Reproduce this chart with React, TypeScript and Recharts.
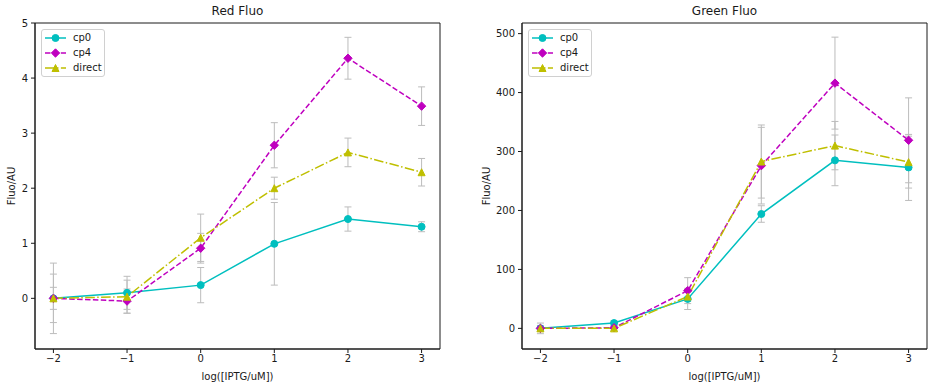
import React from "react";
import {
  LineChart,
  Line,
  XAxis,
  YAxis,
  ErrorBar,
  ReferenceArea,
} from "recharts";

// log([IPTG/uM]) positions
const xValues = [-2, -1, 0, 1, 2, 3];

// Red Fluo panel
const redCp0 = [0, 0.1, 0.24, 0.99, 1.44, 1.3];
const redCp0Err = [0.44, 0.3, 0.32, 0.75, 0.22, 0.09];
const redCp4 = [0, -0.05, 0.91, 2.78, 4.36, 3.49];
const redCp4Err = [0.2, 0.22, 0.27, 0.41, 0.38, 0.35];
const redDirect = [0, 0.03, 1.1, 2.0, 2.65, 2.29];
const redDirectErr = [0.64, 0.3, 0.43, 0.2, 0.26, 0.25];
const redTicks = [0, 1, 2, 3, 4, 5];

// Green Fluo panel
const greenCp0 = [0, 9, 50, 194, 285, 273];
const greenCp0Err = [9, 4, 18, 14, 43, 56];
const greenCp4 = [0, 1, 64, 276, 416, 319];
const greenCp4Err = [5, 4, 22, 65, 78, 72];
const greenDirect = [0, 0, 54, 283, 310, 282];
const greenDirectErr = [3, 3, 8, 62, 41, 44];
const greenTicks = [0, 100, 200, 300, 400, 500];

const xTicks = [-2, -1, 0, 1, 2, 3];
const xDomain: [number, number] = [-2.25, 3.25];

const FONT = "'DejaVu Sans', sans-serif";
const TEXT = "#1a1a1a";
const ERR = "#bcbcbc";

const series = [
  { key: "cp0", name: "cp0", color: "#00bfbf", dash: undefined, marker: "o" },
  { key: "cp4", name: "cp4", color: "#bf00bf", dash: "5.5 2.4", marker: "D" },
  { key: "direct", name: "direct", color: "#bfbf00", dash: "9.6 2.4 1.5 2.4", marker: "^" },
];

const minus = (v: number) => String(v).replace("-", "\u2212");

function Marker({ cx, cy, color, kind }: { cx: number; cy: number; color: string; kind: string }) {
  if (cx == null || cy == null) return null;
  if (kind === "D") {
    const h = 4.2;
    return (
      <polygon
        points={`${cx},${cy - h} ${cx + h},${cy} ${cx},${cy + h} ${cx - h},${cy}`}
        fill={color}
        stroke={color}
        strokeWidth={1}
      />
    );
  }
  if (kind === "^") {
    const h = 3.5;
    return (
      <polygon
        points={`${cx},${cy - h} ${cx + h},${cy + h} ${cx - h},${cy + h}`}
        fill={color}
        stroke={color}
        strokeWidth={1}
      />
    );
  }
  return <circle cx={cx} cy={cy} r={3.5} fill={color} stroke={color} strokeWidth={1} />;
}

function LegendBox({ left, top }: { left: number; top: number }) {
  return (
    <div
      style={{
        position: "absolute",
        left,
        top,
        width: 62,
        height: 46,
        border: "1px solid #d0d0d0",
        borderRadius: 3,
        background: "rgba(255,255,255,0.8)",
        fontFamily: FONT,
        fontSize: 10,
        color: TEXT,
      }}
    >
      {series.map((s, i) => (
        <div
          key={s.key}
          style={{ position: "absolute", left: 0, top: 1 + i * 15, height: 14, width: 62 }}
        >
          <svg width={26} height={14} style={{ position: "absolute", left: 2, top: 0 }}>
            <line
              x1={1}
              x2={22}
              y1={7}
              y2={7}
              stroke={s.color}
              strokeWidth={1.5}
              strokeDasharray={s.dash}
            />
            <Marker cx={11.5} cy={7} color={s.color} kind={s.marker} />
          </svg>
          <span style={{ position: "absolute", left: 31, top: 0, lineHeight: "14px" }}>{s.name}</span>
        </div>
      ))}
    </div>
  );
}

function Panel({
  title,
  rows,
  yDomain,
  yTicks,
  yAxisWidth,
  rightMargin,
  yLabelOffset,
}: {
  title: string;
  rows: any[];
  yDomain: [number, number];
  yTicks: number[];
  yAxisWidth: number;
  rightMargin: number;
  yLabelOffset: number;
}) {
  const width = 470;
  const plotLeft = yAxisWidth;
  const plotRight = width - rightMargin;
  return (
    <div style={{ position: "relative", width, height: 387 }}>
      <div
        style={{
          position: "absolute",
          left: plotLeft,
          width: plotRight - plotLeft,
          top: 4,
          textAlign: "center",
          fontFamily: FONT,
          fontSize: 12,
          color: TEXT,
        }}
      >
        {title}
      </div>
      <LineChart
        width={width}
        height={387}
        data={rows}
        margin={{ top: 23, right: rightMargin, bottom: 0, left: 0 }}
        style={{ fontFamily: FONT }}
      >
        <XAxis
          dataKey="x"
          type="number"
          domain={xDomain}
          ticks={xTicks}
          allowDataOverflow
          height={38}
          tickSize={4}
          tickMargin={2}
          tickFormatter={minus}
          tick={{ fontSize: 10, fill: TEXT }}
          axisLine={{ stroke: TEXT }}
          tickLine={{ stroke: TEXT }}
          label={{
            value: "log([IPTG/uM])",
            position: "insideBottom",
            offset: 7,
            style: { fontSize: 10, fill: TEXT },
          }}
        />
        <YAxis
          type="number"
          domain={yDomain}
          ticks={yTicks}
          allowDataOverflow
          width={yAxisWidth}
          tickSize={4}
          tickMargin={3}
          tickFormatter={minus}
          tick={{ fontSize: 10, fill: TEXT }}
          axisLine={{ stroke: TEXT }}
          tickLine={{ stroke: TEXT }}
          label={{
            value: "Fluo/AU",
            angle: -90,
            position: "insideLeft",
            offset: yLabelOffset,
            style: { fontSize: 10, fill: TEXT, textAnchor: "middle" },
          }}
        />
        <ReferenceArea
          x1={xDomain[0]}
          x2={xDomain[1]}
          y1={yDomain[0]}
          y2={yDomain[1]}
          fill="none"
          fillOpacity={0}
          stroke={TEXT}
          strokeWidth={1}
        />
        {series.map((s) => (
          <Line
            key={s.key}
            dataKey={s.key}
            name={s.name}
            stroke={s.color}
            strokeWidth={1.5}
            strokeDasharray={s.dash}
            isAnimationActive={false}
            dot={(p: any) => (
              <Marker key={`${s.key}-${p.index}`} cx={p.cx} cy={p.cy} color={s.color} kind={s.marker} />
            )}
            activeDot={false}
          >
            <ErrorBar
              dataKey={`${s.key}Err`}
              direction="y"
              width={3.5}
              stroke={ERR}
              strokeWidth={1}
              isAnimationActive={false}
            />
          </Line>
        ))}
      </LineChart>
      <LegendBox left={plotLeft + 6} top={29} />
    </div>
  );
}

const redRows = xValues.map((x, i) => ({
  x,
  cp0: redCp0[i],
  cp0Err: redCp0Err[i],
  cp4: redCp4[i],
  cp4Err: redCp4Err[i],
  direct: redDirect[i],
  directErr: redDirectErr[i],
}));

const greenRows = xValues.map((x, i) => ({
  x,
  cp0: greenCp0[i],
  cp0Err: greenCp0Err[i],
  cp4: greenCp4[i],
  cp4Err: greenCp4Err[i],
  direct: greenDirect[i],
  directErr: greenDirectErr[i],
}));

export default function App() {
  return (
    <div
      style={{
        position: "absolute",
        left: 0,
        top: 0,
        width: 938,
        height: 387,
        background: "#fff",
        display: "flex",
      }}
    >
      <Panel
        title="Red Fluo"
        rows={redRows}
        yDomain={[-0.92, 5]}
        yTicks={redTicks}
        yAxisWidth={35}
        rightMargin={30}
        yLabelOffset={11}
      />
      <div style={{ position: "absolute", left: 468, top: 0 }}>
        <Panel
          title="Green Fluo"
          rows={greenRows}
          yDomain={[-35, 518]}
          yTicks={greenTicks}
          yAxisWidth={54}
          rightMargin={11}
          yLabelOffset={18}
        />
      </div>
    </div>
  );
}
